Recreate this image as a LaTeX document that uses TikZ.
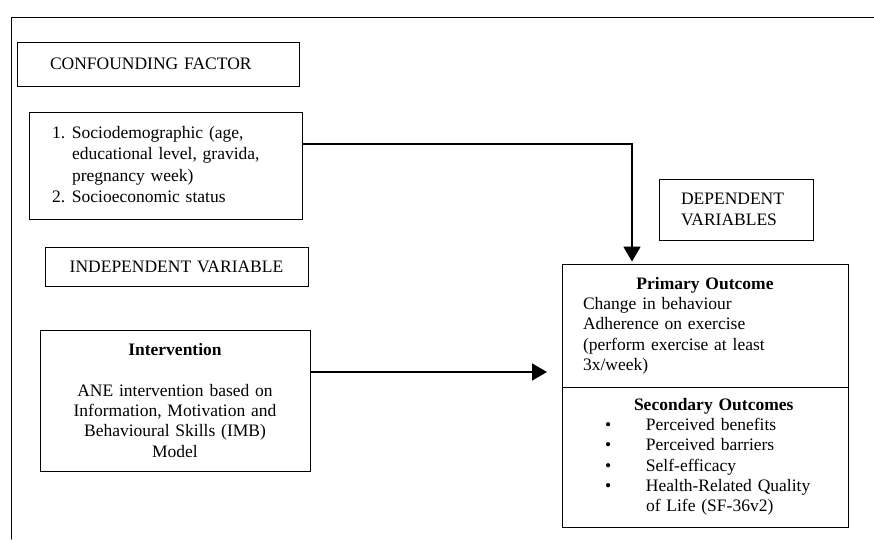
\documentclass[tikz,border=0pt]{standalone}
\usepackage{fontspec}
\setmainfont{Liberation Serif}
\usetikzlibrary{arrows.meta}

\begin{document}
\begin{tikzpicture}
		[x=1pt,y=-1pt,line cap=round,
		%Styles
		box/.style={draw,line width=0.9pt,inner ysep=0pt,font=\fontsize{17.5}{20.3}\selectfont},
		link/.style={line width=1.8pt,line cap=butt,-{Triangle[length=15pt,width=17pt]}},
		frame line/.style={line width=1pt}
		]
		\useasboundingbox (0,0) rectangle (874,539);
		
		%The frame
		\draw[frame line] (874,17) -- (11,17) -- (11,539);
		
		%The graphic
		\node[box,minimum width=282pt,minimum height=44pt,text width=216pt,inner xsep=33pt,align=left] (conf) at (158,64) {CONFOUNDING FACTOR};
		\node[box,minimum width=273pt,minimum height=107pt,text width=227pt,inner xsep=23pt,align=left] (socio) at (165.5,166) {%
			\fontsize{17.5}{21.5}\selectfont
			\begin{tabular}{@{}p{20pt}@{}l@{}}
				1. & Sociodemographic (age,\\
				   & educational level, gravida,\\
				   & pregnancy week)\\
				2. & Socioeconomic status
			\end{tabular}};
		\node[box,minimum width=263pt,minimum height=39pt,text width=263pt,inner xsep=0pt,align=center] (indep) at (176.5,266.5) {INDEPENDENT VARIABLE};
		\node[box,minimum width=270pt,minimum height=141pt,text width=270pt,inner xsep=0pt,align=center] (interv) at (175,400.5) {%
			{\bfseries Intervention}\\[20.3pt]
			ANE intervention based on\\
			Information, Motivation and\\
			Behavioural Skills (IMB)\\
			Model};
		\node[box,minimum width=154pt,minimum height=61pt,text width=110pt,inner xsep=22pt,align=left] (dep) at (736,209.5) {DEPENDENT\\VARIABLES};
		\node[box,minimum width=286pt,minimum height=123pt,text width=244pt,inner xsep=21pt,align=left] (primary) at (705,325.5) {%
			\makebox[244pt]{\bfseries Primary Outcome}\\
			Change in behaviour\\
			Adherence on exercise\\
			(perform exercise at least\\
			3x/week)};
		\node[box,minimum width=286pt,minimum height=140pt,text width=286pt,inner xsep=0pt,align=left] (second) at (705,457) {%
			\begin{tabular}{@{\hspace{43pt}}p{41pt}@{}l@{}}
				\multicolumn{2}{@{\hspace{72pt}}l@{}}{\bfseries Secondary Outcomes}\\
				\textbullet & Perceived benefits\\
				\textbullet & Perceived barriers\\
				\textbullet & Self-efficacy\\
				\textbullet & Health-Related Quality\\
				            & of Life (SF-36v2)
			\end{tabular}};
		
		%Connectors
		\coordinate (bend) at (632,144);
		\coordinate (aim) at (547,372);
		\draw[link,shorten >=2pt] (socio.east |- bend) -- (bend) -- (primary.north -| bend);
		\draw[link] (interv.east |- aim) -- (aim);
	\end{tikzpicture}
\end{document}
